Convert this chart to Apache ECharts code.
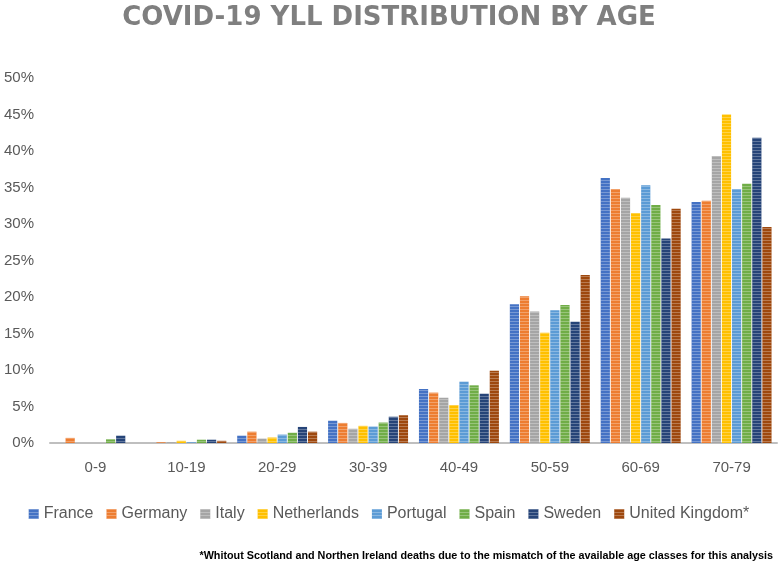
<!DOCTYPE html>
<html>
<head>
<meta charset="utf-8">
<script src="https://cdn.jsdelivr.net/npm/echarts@6/dist/echarts.min.js"></script>
<style>html,body{margin:0;padding:0;background:#fff}#c{width:778px;height:567px}</style>
</head>
<body>
<div id="c"></div>
<script>
var categories = ['0-9','10-19','20-29','30-39','40-49','50-59','60-69','70-79'];
var yTicks = [0,5,10,15,20,25,30,35,40,45,50];
var countries = ['France','Germany','Italy','Netherlands','Portugal','Spain','Sweden','United Kingdom*'];
var france      = [0.0, 0.0, 1.0, 3.05, 7.4, 19.0, 36.3, 33.0];
var germany     = [0.7, 0.1, 1.55, 2.75, 6.9, 20.1, 34.8, 33.2];
var italy       = [0.0, 0.1, 0.6, 1.95, 6.2, 18.0, 33.6, 39.3];
var netherlands = [0.0, 0.3, 0.75, 2.35, 5.2, 15.1, 31.5, 45.0];
var portugal    = [0.0, 0.1, 1.15, 2.25, 8.4, 18.2, 35.3, 34.8];
var spain       = [0.5, 0.45, 1.4, 2.8, 7.9, 18.9, 32.6, 35.5];
var sweden      = [1.0, 0.45, 2.2, 3.6, 6.75, 16.6, 28.0, 41.8];
var uk          = [0.0, 0.3, 1.55, 3.8, 9.9, 23.0, 32.1, 29.6];
var seriesData = [france, germany, italy, netherlands, portugal, spain, sweden, uk];
var colors = ['#4472C4','#ED7D31','#A5A5A5','#FFC000','#5B9BD5','#70AD47','#264478','#9E480E'];

var chart = echarts.init(document.getElementById('c'), null, {renderer:'canvas'});
var series = countries.map(function(name, i){
  return {
    name: name,
    type: 'bar',
    data: seriesData[i],
    barGap: '10%',
    barCategoryGap: '12%',
    itemStyle: {
      color: colors[i],
      decal: {
        symbol: 'rect',
        symbolSize: 1,
        dashArrayX: [1, 0],
        dashArrayY: [1, 2],
        color: 'rgba(255,255,255,0.28)',
        rotation: 0
      }
    }
  };
});
chart.setOption({
  animation: false,
  backgroundColor: '#ffffff',
  color: colors,
  title: {
    text: 'COVID-19 YLL DISTRIBUTION BY AGE',
    left: 'center',
    top: 0,
    textStyle: {
      fontFamily: 'DejaVu Sans',
      fontWeight: 'bold',
      fontSize: 26,
      color: '#7f7f7f'
    }
  },
  legend: {
    data: countries,
    left: 'center',
    top: 501,
    itemWidth: 10,
    itemHeight: 10,
    itemGap: 13,
    icon: 'rect',
    textStyle: {fontFamily: 'Liberation Sans', fontSize: 16, color: '#595959'}
  },
  grid: {left: 50, right: 1, top: 78, bottom: 124, containLabel: false},
  xAxis: {
    type: 'category',
    data: categories,
    axisTick: {show: false},
    axisLine: {lineStyle: {color: '#bfbfbf', width: 2}},
    axisLabel: {fontFamily: 'Liberation Sans', fontSize: 15, color: '#595959', margin: 17}
  },
  yAxis: {
    type: 'value',
    min: yTicks[0],
    max: yTicks[yTicks.length-1],
    interval: 5,
    splitLine: {show: false},
    axisLine: {show: false},
    axisTick: {show: false},
    axisLabel: {formatter: '{value}%', fontFamily: 'Liberation Sans', fontSize: 15, color: '#595959', margin: 16}
  },
  graphic: [{
    type: 'text',
    right: 5,
    top: 551,
    style: {
      text: '*Whitout Scotland and Northen Ireland deaths due to the mismatch of the available age classes for this analysis',
      font: 'bold 10.8px "Liberation Sans Narrow", "Liberation Sans"',
      fill: '#000000'
    }
  }],
  series: series
});
</script>
</body>
</html>
